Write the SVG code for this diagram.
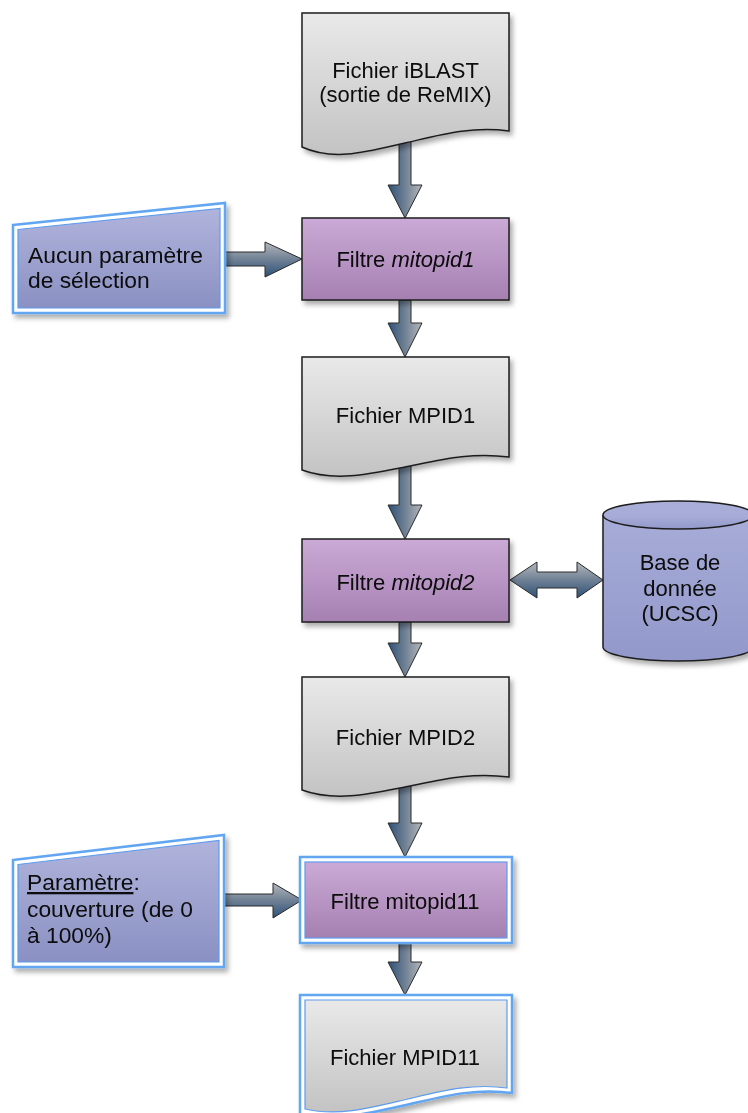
<svg xmlns="http://www.w3.org/2000/svg" width="748" height="1113" viewBox="0 0 748 1113">
<defs>
<linearGradient id="gDoc" x1="0" y1="0" x2="0" y2="1"><stop offset="0" stop-color="#e9e9e9"/><stop offset="1" stop-color="#c3c3c3"/></linearGradient>
<linearGradient id="gPur" x1="0" y1="0" x2="0" y2="1"><stop offset="0" stop-color="#cbaad7"/><stop offset="1" stop-color="#a580b1"/></linearGradient>
<linearGradient id="gBlue" x1="0" y1="0" x2="0" y2="1"><stop offset="0" stop-color="#b0b4dc"/><stop offset="1" stop-color="#8a90c2"/></linearGradient>
<linearGradient id="gCyl" x1="0" y1="0" x2="0" y2="1"><stop offset="0" stop-color="#a9aed9"/><stop offset="1" stop-color="#9298ca"/></linearGradient>
<linearGradient id="gArV" x1="0" y1="0" x2="1" y2="0"><stop offset="0" stop-color="#2d5178"/><stop offset="0.5" stop-color="#6f8094"/><stop offset="1" stop-color="#b4b8bc"/></linearGradient>
<linearGradient id="gArH" x1="0" y1="0" x2="0" y2="1"><stop offset="0" stop-color="#b4b8bc"/><stop offset="0.5" stop-color="#6f8094"/><stop offset="1" stop-color="#2d5178"/></linearGradient>
<filter id="sh" x="-10%" y="-10%" width="130%" height="130%"><feDropShadow dx="3" dy="4" stdDeviation="2.5" flood-color="#000" flood-opacity="0.32"/></filter>
</defs>
<style>
.doc{fill:url(#gDoc);stroke:#1e1e1e;stroke-width:1.5}
.pur{fill:url(#gPur);stroke:#1e1e1e;stroke-width:1.5}
.sel{fill:#fff;stroke:#62a6f2;stroke-width:2.5}
.inB{fill:url(#gBlue);stroke:#5d9cee;stroke-width:1.2}
.inP{fill:url(#gPur);stroke:#5d9cee;stroke-width:1.2}
.inD{fill:url(#gDoc);stroke:#5d9cee;stroke-width:1.2}
.cyl{fill:url(#gCyl);stroke:#1e1e1e;stroke-width:1.5}
.av{fill:url(#gArV);stroke:#2a2a2a;stroke-width:1}
.ah{fill:url(#gArH);stroke:#2a2a2a;stroke-width:1}
text{font-family:"Liberation Sans",Arial,Helvetica,sans-serif;fill:#0a0a0a}
.t22{font-size:22px}
.t23{font-size:22.8px}
.c{text-anchor:middle}
</style>

<g id="connectors">
<path class="av" d="M399,140 H411 V185 H422 L405,218 L388,185 H399 Z"/>
<path class="av" d="M399,300 H411 V323 H422 L405,357 L388,323 H399 Z"/>
<path class="av" d="M399,466 H411 V505 H422 L405,539 L388,505 H399 Z"/>
<path class="av" d="M399,622 H411 V643 H422 L405,677 L388,643 H399 Z"/>
<path class="av" d="M399,786 H411 V823 H422 L405,857 L388,823 H399 Z"/>
<path class="av" d="M399,943 H411 V962 H422 L405,995 L388,962 H399 Z"/>
<path class="ah" d="M225,252 H265 V242 L302,259 L265,277 V266 H225 Z"/>
<path class="ah" d="M224,894 H273 V883 L302,900 L273,918 V906 H224 Z"/>
<path class="ah" d="M510,580 L537,562 V572 H577 V562 L603,580 L577,598 V588 H537 V598 Z"/>
</g>

<g id="n_iblast" filter="url(#sh)">
<path class="doc" d="M302,13 H509 V131 C470,126 440,135 405,143 S335,162 302,147 Z"/>
<text class="t22 c" x="405.5" y="78">Fichier iBLAST</text>
<text class="t22 c" x="405.5" y="102">(sortie de ReMIX)</text>
</g>

<g id="n_aucun" filter="url(#sh)">
<path class="sel" d="M13,225 L225,203 V313 H13 Z"/>
<path class="inB" d="M18,229.5 L220,208.5 V308 H18 Z"/>
<text class="t23" x="28" y="263">Aucun paramètre</text>
<text class="t23" x="28" y="288">de sélection</text>
</g>

<g id="n_filtre1" filter="url(#sh)">
<rect class="pur" x="302" y="218" width="207" height="82"/>
<text class="t22 c" x="405.5" y="267">Filtre <tspan font-style="italic">mitopid1</tspan></text>
</g>

<g id="n_mpid1" filter="url(#sh)">
<path class="doc" d="M302,357 H509 V457 C470,452 440,460 405,467 S335,482 302,470 Z"/>
<text class="t22 c" x="405.5" y="423">Fichier MPID1</text>
</g>

<g id="n_filtre2" filter="url(#sh)">
<rect class="pur" x="302" y="539" width="207" height="83"/>
<text class="t22 c" x="405.5" y="590">Filtre <tspan font-style="italic">mitopid2</tspan></text>
</g>

<g id="n_db" filter="url(#sh)">
<path class="cyl" d="M603,515 A75,14 0 0 1 753,515 V647 A75,14 0 0 1 603,647 Z"/>
<path class="cyl" d="M603,515 A75,14 0 0 0 753,515"/>
<text class="t22 c" x="680" y="570">Base de</text>
<text class="t22 c" x="680" y="596">donnée</text>
<text class="t22 c" x="680" y="621">(UCSC)</text>
</g>

<g id="n_mpid2" filter="url(#sh)">
<path class="doc" d="M302,677 H509 V777 C470,772 440,780 405,787 S335,802 302,790 Z"/>
<text class="t22 c" x="405.5" y="745">Fichier MPID2</text>
</g>

<g id="n_param" filter="url(#sh)">
<path class="sel" d="M13,860 L224,835 V967 H13 Z"/>
<path class="inB" d="M18,864.5 L219,840.5 V962 H18 Z"/>
<text class="t23" x="27" y="890"><tspan text-decoration="underline">Paramètre</tspan>:</text>
<text class="t23" x="27" y="917">couverture (de 0</text>
<text class="t23" x="27" y="943">à 100%)</text>
</g>

<g id="n_filtre11" filter="url(#sh)">
<rect class="sel" x="300" y="857" width="212" height="86"/>
<rect class="inP" x="305" y="862" width="202" height="76"/>
<text class="t22 c" x="405" y="909">Filtre mitopid11</text>
</g>

<g id="n_mpid11" filter="url(#sh)">
<path class="sel" d="M300,995 H512 V1093 C475,1088 445,1096 410,1104 S340,1122 300,1114 Z"/>
<path class="inD" d="M305,1000 H507 V1088 C472,1083 442,1091 408,1099 S340,1117 305,1109 Z"/>
<text class="t22 c" x="405" y="1065">Fichier MPID11</text>
</g>
</svg>
